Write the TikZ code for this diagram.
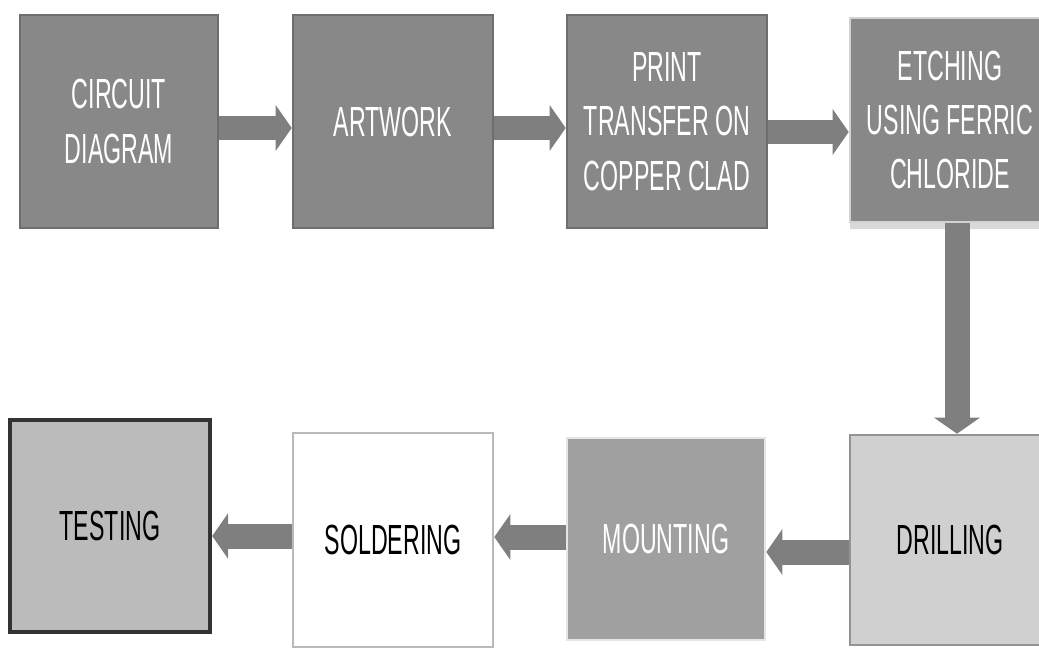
\documentclass[tikz,border=0pt]{standalone}
\usepackage{fontspec}
\setmainfont{Liberation Sans}[FakeStretch=0.55]
\usetikzlibrary{arrows.meta,shadows}
\definecolor{boxdark}{HTML}{888888}
\definecolor{boxedge}{HTML}{6E6E6E}
\definecolor{boxmid}{HTML}{A0A0A0}
\definecolor{boxlight}{HTML}{D0D0D0}
\definecolor{boxtest}{HTML}{BBBBBB}
\definecolor{arrowgray}{HTML}{7F7F7F}

\begin{document}
\begin{tikzpicture}[x=0.02cm, y=-0.02cm,
  stage/.style={rectangle, minimum width=4cm, minimum height=4.26cm, inner sep=0pt,
    align=center, font=\fontsize{24}{31}\selectfont, line width=1.5pt},
  darkstage/.style={stage, fill=boxdark, draw=boxedge, text=white},
  flow/.style={draw=arrowgray, line width=0.5cm, -{Triangle[length=0.32cm, width=0.9cm]}}]
\useasboundingbox (0,0) rectangle (1039,649);
\clip (0,0) rectangle (1039,649);
\node[darkstage, minimum width=3.96cm] (circuit) at (119,121.5){CIRCUIT\\DIAGRAM};
\node[darkstage] (artwork) at (393,121.5){ARTWORK};
\node[darkstage] (print) at (667,121.5){PRINT\\TRANSFER ON\\COPPER CLAD};
\node[darkstage, draw=gray!35, minimum height=4.08cm,
  drop shadow={shadow xshift=0cm, shadow yshift=-0.14cm, fill=gray!30, opacity=1}]
  (etching) at (950,120){ETCHING\\USING FERRIC\\CHLORIDE};
\node[stage, fill=boxlight, draw=gray!85, minimum height=4.2cm] (drilling) at (950,540){DRILLING};
\node[stage, fill=boxmid, draw=gray!20, text=white, minimum width=3.96cm, minimum height=4.04cm]
  (mounting) at (666,539){MOUNTING};
\node[stage, fill=white, draw=gray!55, minimum height=4.28cm] (soldering) at (393,540){SOLDERING};
\node[stage, fill=boxtest, draw=black!80, line width=2.5pt, minimum height=4.24cm]
  (testing) at (110,526){TESTING};
\draw[flow] (circuit.east |- 0,128) -- (artwork.west |- 0,128);
\draw[flow] (artwork.east |- 0,128) -- (print.west |- 0,128);
\draw[flow] (print.east |- 0,132) -- (etching.west |- 0,132);
\draw[flow] (etching.south -| 957,0) -- (drilling.north -| 957,0);
\draw[flow] (drilling.west |- 0,552) -- (mounting.east |- 0,552);
\draw[flow] (mounting.west |- 0,537) -- (soldering.east |- 0,537);
\draw[flow] (soldering.west |- 0,536) -- (testing.east |- 0,536);
\end{tikzpicture}
\end{document}
